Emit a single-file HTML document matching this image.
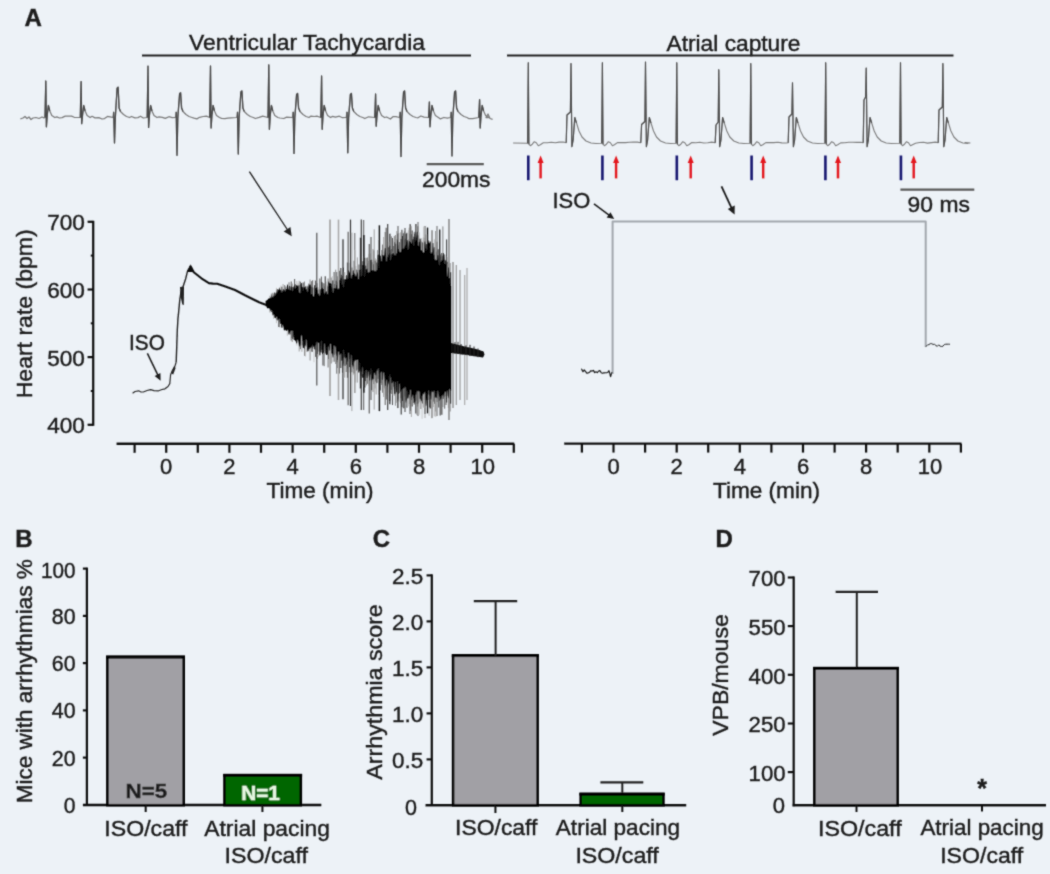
<!DOCTYPE html>
<html><head><meta charset="utf-8"><style>
html,body{margin:0;padding:0;background:#EDF2F7;}
svg{display:block;}
text{font-family:"Liberation Sans",sans-serif;}
</style></head><body>
<svg width="1050" height="874" viewBox="0 0 1050 874">
<defs><filter id="soft" filterUnits="userSpaceOnUse" x="0" y="0" width="1050" height="874"><feConvolveMatrix order="3" kernelMatrix="0.03 0.1 0.03 0.1 0.48 0.1 0.03 0.1 0.03" edgeMode="duplicate"/></filter></defs>
<rect width="1050" height="874" fill="#EDF2F7"/>
<g filter="url(#soft)">
<text x="24.6" y="26.0" font-size="24" font-weight="bold" text-anchor="start" fill="#1b1b1b" stroke="#1b1b1b" stroke-width="0.4">A</text>
<text x="189.0" y="50.0" font-size="22" font-weight="normal" text-anchor="start" fill="#1b1b1b" stroke="#1b1b1b" stroke-width="0.4" textLength="236.0" lengthAdjust="spacingAndGlyphs">Ventricular Tachycardia</text>
<line x1="142.0" y1="55.6" x2="471.0" y2="55.6" stroke="#222" stroke-width="2"/>
<text x="666.5" y="50.5" font-size="22" font-weight="normal" text-anchor="start" fill="#1b1b1b" stroke="#1b1b1b" stroke-width="0.4" textLength="134.0" lengthAdjust="spacingAndGlyphs">Atrial capture</text>
<line x1="507.0" y1="55.4" x2="953.5" y2="55.4" stroke="#222" stroke-width="2"/>
<polyline points="20.4,118.8 23.0,118.0 25.0,116.5 27.0,118.5 29.0,117.0 31.0,119.5 33.0,118.0 36.0,117.5 39.0,118.5 42.0,117.0 44.0,117.8 45.0,117.5 45.8,81.0 46.4,126.8 47.2,115.5 48.4,105.5 49.8,111.0 51.8,115.5 54.8,117.5 56.8,116.9 59.5,118.0 62.1,117.6 65.2,116.1 68.4,116.0 71.6,116.1 74.2,117.3 80.3,117.5 81.1,81.6 81.7,123.7 82.5,115.5 83.7,105.5 85.1,111.0 87.1,115.5 90.1,117.5 92.1,116.3 94.9,117.9 98.9,117.7 102.0,119.0 104.5,118.6 107.5,116.4 110.1,116.9 112.9,117.5 113.7,112.0 114.5,142.9 115.3,118.0 117.1,88.2 118.1,87.2 119.1,108.0 120.5,111.5 123.5,114.5 126.5,116.5 129.5,117.5 131.5,116.5 134.9,117.9 137.9,117.6 140.5,116.2 143.3,118.0 147.2,117.5 148.0,66.1 148.6,127.4 149.4,115.5 150.6,105.5 152.0,111.0 154.0,115.5 157.0,117.5 159.0,116.9 162.4,117.4 165.3,118.4 168.9,116.7 172.2,117.6 175.4,117.5 176.2,112.0 177.0,155.3 177.8,118.0 179.6,93.8 180.6,92.8 181.6,108.0 183.0,111.5 186.0,114.5 189.0,116.5 192.0,117.5 194.0,118.2 196.9,118.9 199.6,117.3 203.2,116.5 206.5,116.1 209.7,117.5 210.5,66.0 211.1,128.0 211.9,115.5 213.1,105.5 214.5,111.0 216.5,115.5 219.5,117.5 221.5,118.3 224.9,118.7 227.8,118.1 231.2,117.8 236.7,117.5 237.5,112.0 238.3,154.0 239.1,118.0 240.9,92.0 241.9,91.0 242.9,108.0 244.3,111.5 247.3,114.5 250.3,116.5 253.3,117.5 255.3,118.5 259.2,117.4 262.7,116.2 268.0,117.5 268.8,64.9 269.4,129.3 270.2,115.5 271.4,105.5 272.8,111.0 274.8,115.5 277.8,117.5 279.8,118.0 283.8,118.5 286.7,117.1 292.4,117.5 293.2,112.0 294.0,153.4 294.8,118.0 296.6,94.4 297.6,93.4 298.6,108.0 300.0,111.5 303.0,114.5 306.0,116.5 309.0,117.5 311.0,116.1 314.2,116.5 316.9,116.2 320.8,117.5 321.6,76.0 322.2,129.3 323.0,115.5 324.2,105.5 325.6,111.0 327.6,115.5 330.6,117.5 332.6,116.3 335.5,117.2 339.3,116.2 342.5,117.7 346.2,117.5 347.0,112.0 347.8,152.8 348.6,118.0 350.4,94.4 351.4,93.4 352.4,108.0 353.8,111.5 356.8,114.5 359.8,116.5 362.8,117.5 364.8,118.5 368.6,116.8 374.8,117.5 375.6,94.0 376.2,126.2 377.0,115.5 378.2,105.5 379.6,111.0 381.6,115.5 384.6,117.5 386.6,117.0 390.4,119.0 393.2,116.5 396.0,116.6 399.4,117.5 400.2,112.0 401.0,156.5 401.8,118.0 403.6,91.9 404.6,90.9 405.6,108.0 407.0,111.5 410.0,114.5 413.0,116.5 416.0,117.5 418.0,117.8 420.9,116.0 424.0,117.1 428.6,117.5 429.4,102.0 430.0,126.8 430.8,115.5 432.0,105.5 433.4,111.0 435.4,115.5 438.4,117.5 440.4,118.9 443.9,117.5 447.4,118.1 450.4,117.5 451.2,112.0 452.0,155.9 452.8,118.0 454.6,91.9 455.6,90.9 456.6,108.0 458.0,111.5 461.0,114.5 464.0,116.5 467.0,117.5 469.0,118.7 472.7,118.6 478.8,117.5 479.6,99.6 480.2,128.0 481.0,115.5 482.2,105.5 483.6,111.0 485.6,115.5 488.6,117.5 486.0,117.5 488.0,114.0 490.0,118.5 492.6,119.4" fill="none" stroke="#7a7a7a" stroke-width="1.25" stroke-linejoin="round"/>
<polyline points="45.0,117.5 45.8,81.0 46.4,126.8 47.2,115.5 48.4,105.5 49.8,111.0" fill="none" stroke="#4a4a4a" stroke-width="1.25" stroke-linejoin="round"/>
<polyline points="80.3,117.5 81.1,81.6 81.7,123.7 82.5,115.5 83.7,105.5 85.1,111.0" fill="none" stroke="#4a4a4a" stroke-width="1.25" stroke-linejoin="round"/>
<polyline points="113.7,112.0 114.5,142.9 115.3,118.0 117.1,88.2 118.1,87.2 119.1,108.0 120.5,111.5" fill="none" stroke="#4a4a4a" stroke-width="1.25" stroke-linejoin="round"/>
<polyline points="147.2,117.5 148.0,66.1 148.6,127.4 149.4,115.5 150.6,105.5 152.0,111.0" fill="none" stroke="#4a4a4a" stroke-width="1.25" stroke-linejoin="round"/>
<polyline points="176.2,112.0 177.0,155.3 177.8,118.0 179.6,93.8 180.6,92.8 181.6,108.0 183.0,111.5" fill="none" stroke="#4a4a4a" stroke-width="1.25" stroke-linejoin="round"/>
<polyline points="209.7,117.5 210.5,66.0 211.1,128.0 211.9,115.5 213.1,105.5 214.5,111.0" fill="none" stroke="#4a4a4a" stroke-width="1.25" stroke-linejoin="round"/>
<polyline points="237.5,112.0 238.3,154.0 239.1,118.0 240.9,92.0 241.9,91.0 242.9,108.0 244.3,111.5" fill="none" stroke="#4a4a4a" stroke-width="1.25" stroke-linejoin="round"/>
<polyline points="268.0,117.5 268.8,64.9 269.4,129.3 270.2,115.5 271.4,105.5 272.8,111.0" fill="none" stroke="#4a4a4a" stroke-width="1.25" stroke-linejoin="round"/>
<polyline points="293.2,112.0 294.0,153.4 294.8,118.0 296.6,94.4 297.6,93.4 298.6,108.0 300.0,111.5" fill="none" stroke="#4a4a4a" stroke-width="1.25" stroke-linejoin="round"/>
<polyline points="320.8,117.5 321.6,76.0 322.2,129.3 323.0,115.5 324.2,105.5 325.6,111.0" fill="none" stroke="#4a4a4a" stroke-width="1.25" stroke-linejoin="round"/>
<polyline points="347.0,112.0 347.8,152.8 348.6,118.0 350.4,94.4 351.4,93.4 352.4,108.0 353.8,111.5" fill="none" stroke="#4a4a4a" stroke-width="1.25" stroke-linejoin="round"/>
<polyline points="374.8,117.5 375.6,94.0 376.2,126.2 377.0,115.5 378.2,105.5 379.6,111.0" fill="none" stroke="#4a4a4a" stroke-width="1.25" stroke-linejoin="round"/>
<polyline points="400.2,112.0 401.0,156.5 401.8,118.0 403.6,91.9 404.6,90.9 405.6,108.0 407.0,111.5" fill="none" stroke="#4a4a4a" stroke-width="1.25" stroke-linejoin="round"/>
<polyline points="428.6,117.5 429.4,102.0 430.0,126.8 430.8,115.5 432.0,105.5 433.4,111.0" fill="none" stroke="#4a4a4a" stroke-width="1.25" stroke-linejoin="round"/>
<polyline points="451.2,112.0 452.0,155.9 452.8,118.0 454.6,91.9 455.6,90.9 456.6,108.0 458.0,111.5" fill="none" stroke="#4a4a4a" stroke-width="1.25" stroke-linejoin="round"/>
<polyline points="478.8,117.5 479.6,99.6 480.2,128.0 481.0,115.5 482.2,105.5 483.6,111.0" fill="none" stroke="#4a4a4a" stroke-width="1.25" stroke-linejoin="round"/>
<polyline points="513.1,143.0 527.6,143.2 528.3,62.7 528.9,144.2 530.3,145.7 532.3,144.2 534.3,141.7 536.3,142.7 538.3,145.7 540.3,144.7 543.3,142.8 547.3,142.7 551.3,142.3 555.3,142.8 559.3,142.1 563.3,142.0 566.2,142.7 567.0,115.0 570.4,112.0 571.0,63.5 571.9,146.7 573.1,140.2 574.8,117.5 576.5,123.0 579.0,131.0 582.0,137.0 586.0,141.0 591.0,143.0 596.0,143.5 601.7,143.2 602.4,62.7 603.0,144.2 604.4,145.7 606.4,144.2 608.4,141.7 610.4,142.7 612.4,145.7 614.4,144.7 617.4,142.6 621.4,142.5 625.4,142.6 629.4,142.2 633.4,142.1 637.4,142.1 640.8,142.7 641.6,124.5 644.9,121.5 645.5,62.0 646.4,146.7 647.6,140.2 649.3,117.5 651.0,123.0 653.5,131.0 656.5,137.0 660.5,141.0 665.5,143.0 670.5,143.5 676.1,143.2 676.8,62.7 677.4,144.2 678.8,145.7 680.8,144.2 682.8,141.7 684.8,142.7 686.8,145.7 688.8,144.7 691.8,142.5 695.8,142.7 699.8,142.3 703.8,143.0 707.8,142.7 711.8,142.1 715.2,142.7 716.0,125.0 718.2,122.0 718.8,69.7 719.7,146.7 720.9,140.2 722.6,117.5 724.3,123.0 726.8,131.0 729.8,137.0 733.8,141.0 738.8,143.0 743.8,143.5 750.1,143.2 750.8,63.5 751.4,144.2 752.8,145.7 754.8,144.2 756.8,141.7 758.8,142.7 760.8,145.7 762.8,144.7 765.8,142.6 769.8,142.6 773.8,142.6 777.8,142.3 781.8,142.9 785.8,143.0 788.2,142.7 789.0,117.0 791.9,114.0 792.5,82.8 793.4,146.7 794.6,140.2 796.3,117.5 798.0,123.0 800.5,131.0 803.5,137.0 807.5,141.0 812.5,143.0 817.5,143.5 825.0,143.2 825.7,62.7 826.3,144.2 827.7,145.7 829.7,144.2 831.7,141.7 833.7,142.7 835.7,145.7 837.7,144.7 840.7,142.9 844.7,142.8 848.7,142.3 852.7,142.2 856.7,142.4 860.7,142.2 863.2,142.7 864.0,100.0 865.6,97.0 866.2,68.1 867.1,146.7 868.3,140.2 870.0,117.5 871.7,123.0 874.2,131.0 877.2,137.0 881.2,141.0 886.2,143.0 891.2,143.5 899.8,143.2 900.5,62.7 901.1,144.2 902.5,145.7 904.5,144.2 906.5,141.7 908.5,142.7 910.5,145.7 912.5,144.7 915.5,143.2 919.5,142.5 923.5,142.2 927.5,143.1 931.5,142.6 935.5,142.1 938.2,142.7 939.0,110.0 942.3,107.0 942.9,63.5 943.8,146.7 945.0,140.2 946.7,117.5 948.4,123.0 950.9,131.0 953.9,137.0 957.9,141.0 962.9,143.0 967.9,143.5 965.0,142.5 970.4,143.0" fill="none" stroke="#7d7d7d" stroke-width="1.1" stroke-linejoin="round"/>
<polyline points="527.6,143.2 528.3,62.7 528.9,144.2" fill="none" stroke="#505050" stroke-width="1.15" stroke-linejoin="round"/>
<polyline points="566.2,142.7 567.0,115.0 570.4,112.0 571.0,63.5 571.9,146.7 573.1,140.2 574.8,117.5 576.5,123.0" fill="none" stroke="#505050" stroke-width="1.15" stroke-linejoin="round"/>
<polyline points="601.7,143.2 602.4,62.7 603.0,144.2" fill="none" stroke="#505050" stroke-width="1.15" stroke-linejoin="round"/>
<polyline points="640.8,142.7 641.6,124.5 644.9,121.5 645.5,62.0 646.4,146.7 647.6,140.2 649.3,117.5 651.0,123.0" fill="none" stroke="#505050" stroke-width="1.15" stroke-linejoin="round"/>
<polyline points="676.1,143.2 676.8,62.7 677.4,144.2" fill="none" stroke="#505050" stroke-width="1.15" stroke-linejoin="round"/>
<polyline points="715.2,142.7 716.0,125.0 718.2,122.0 718.8,69.7 719.7,146.7 720.9,140.2 722.6,117.5 724.3,123.0" fill="none" stroke="#505050" stroke-width="1.15" stroke-linejoin="round"/>
<polyline points="750.1,143.2 750.8,63.5 751.4,144.2" fill="none" stroke="#505050" stroke-width="1.15" stroke-linejoin="round"/>
<polyline points="788.2,142.7 789.0,117.0 791.9,114.0 792.5,82.8 793.4,146.7 794.6,140.2 796.3,117.5 798.0,123.0" fill="none" stroke="#505050" stroke-width="1.15" stroke-linejoin="round"/>
<polyline points="825.0,143.2 825.7,62.7 826.3,144.2" fill="none" stroke="#505050" stroke-width="1.15" stroke-linejoin="round"/>
<polyline points="863.2,142.7 864.0,100.0 865.6,97.0 866.2,68.1 867.1,146.7 868.3,140.2 870.0,117.5 871.7,123.0" fill="none" stroke="#505050" stroke-width="1.15" stroke-linejoin="round"/>
<polyline points="899.8,143.2 900.5,62.7 901.1,144.2" fill="none" stroke="#505050" stroke-width="1.15" stroke-linejoin="round"/>
<polyline points="938.2,142.7 939.0,110.0 942.3,107.0 942.9,63.5 943.8,146.7 945.0,140.2 946.7,117.5 948.4,123.0" fill="none" stroke="#505050" stroke-width="1.15" stroke-linejoin="round"/>
<line x1="528.3" y1="155.5" x2="528.3" y2="180.2" stroke="#161670" stroke-width="2.6"/>
<line x1="602.4" y1="155.5" x2="602.4" y2="180.2" stroke="#161670" stroke-width="2.6"/>
<line x1="676.8" y1="155.5" x2="676.8" y2="180.2" stroke="#161670" stroke-width="2.6"/>
<line x1="751.6" y1="155.5" x2="751.6" y2="180.2" stroke="#161670" stroke-width="2.6"/>
<line x1="825.4" y1="155.5" x2="825.4" y2="180.2" stroke="#161670" stroke-width="2.6"/>
<line x1="900.9" y1="155.5" x2="900.9" y2="180.2" stroke="#161670" stroke-width="2.6"/>
<line x1="540.6" y1="161.0" x2="540.6" y2="178.4" stroke="#e3141c" stroke-width="2.4"/>
<polygon points="540.6,155.6 537.6,163 543.6,163" fill="#e3141c"/>
<line x1="616.1" y1="161.0" x2="616.1" y2="178.4" stroke="#e3141c" stroke-width="2.4"/>
<polygon points="616.1,155.6 613.1,163 619.1,163" fill="#e3141c"/>
<line x1="690.7" y1="161.0" x2="690.7" y2="178.4" stroke="#e3141c" stroke-width="2.4"/>
<polygon points="690.7,155.6 687.7,163 693.7,163" fill="#e3141c"/>
<line x1="763.2" y1="161.0" x2="763.2" y2="178.4" stroke="#e3141c" stroke-width="2.4"/>
<polygon points="763.2,155.6 760.2,163 766.2,163" fill="#e3141c"/>
<line x1="838.0" y1="161.0" x2="838.0" y2="178.4" stroke="#e3141c" stroke-width="2.4"/>
<polygon points="838.0,155.6 835.0,163 841.0,163" fill="#e3141c"/>
<line x1="913.7" y1="161.0" x2="913.7" y2="178.4" stroke="#e3141c" stroke-width="2.4"/>
<polygon points="913.7,155.6 910.7,163 916.7,163" fill="#e3141c"/>
<line x1="426.7" y1="164.1" x2="483.8" y2="164.1" stroke="#5a5a5a" stroke-width="2.2"/>
<text x="422.0" y="187.4" font-size="22" font-weight="normal" text-anchor="start" fill="#1b1b1b" stroke="#1b1b1b" stroke-width="0.4" textLength="68.5" lengthAdjust="spacingAndGlyphs">200ms</text>
<line x1="900.4" y1="189.7" x2="974.3" y2="189.7" stroke="#5a5a5a" stroke-width="2.2"/>
<text x="907.6" y="211.7" font-size="22" font-weight="normal" text-anchor="start" fill="#1b1b1b" stroke="#1b1b1b" stroke-width="0.4" textLength="62.3" lengthAdjust="spacingAndGlyphs">90 ms</text>
<line x1="249.4" y1="171.7" x2="287.6" y2="230.0" stroke="#222" stroke-width="1.35"/>
<polygon points="291.7,236.3 283.7,231.4 290.4,227.0" fill="#222"/>
<line x1="721.5" y1="186.4" x2="731.6" y2="208.2" stroke="#1a1a1a" stroke-width="1.8"/>
<polygon points="734.6,214.5 727.8,208.9 734.7,205.6" fill="#1a1a1a"/>
<line x1="93.2" y1="220.8" x2="93.2" y2="425.8" stroke="#111" stroke-width="2.2"/>
<line x1="87.6" y1="424.8" x2="93.2" y2="424.8" stroke="#111" stroke-width="2.2"/>
<text x="84.9" y="433.3" font-size="22.6" font-weight="normal" text-anchor="end" fill="#1b1b1b" stroke="#1b1b1b" stroke-width="0.4">400</text>
<line x1="87.6" y1="357.1" x2="93.2" y2="357.1" stroke="#111" stroke-width="2.2"/>
<text x="84.9" y="365.6" font-size="22.6" font-weight="normal" text-anchor="end" fill="#1b1b1b" stroke="#1b1b1b" stroke-width="0.4">500</text>
<line x1="87.6" y1="289.5" x2="93.2" y2="289.5" stroke="#111" stroke-width="2.2"/>
<text x="84.9" y="298.0" font-size="22.6" font-weight="normal" text-anchor="end" fill="#1b1b1b" stroke="#1b1b1b" stroke-width="0.4">600</text>
<line x1="87.6" y1="221.8" x2="93.2" y2="221.8" stroke="#111" stroke-width="2.2"/>
<text x="84.9" y="230.3" font-size="22.6" font-weight="normal" text-anchor="end" fill="#1b1b1b" stroke="#1b1b1b" stroke-width="0.4">700</text>
<line x1="90.8" y1="391.0" x2="93.2" y2="391.0" stroke="#111" stroke-width="2"/>
<line x1="90.8" y1="323.3" x2="93.2" y2="323.3" stroke="#111" stroke-width="2"/>
<line x1="90.8" y1="255.6" x2="93.2" y2="255.6" stroke="#111" stroke-width="2"/>
<text x="32.2" y="398.3" font-size="21.5" font-weight="normal" text-anchor="start" fill="#1b1b1b" stroke="#1b1b1b" stroke-width="0.4" textLength="169.0" lengthAdjust="spacingAndGlyphs" transform="rotate(-90 32.2 398.3)">Heart rate (bpm)</text>
<line x1="116.6" y1="443.8" x2="514.2" y2="443.8" stroke="#111" stroke-width="2.4"/>
<line x1="134.6" y1="443.8" x2="134.6" y2="452.8" stroke="#111" stroke-width="2.2"/>
<line x1="166.2" y1="443.8" x2="166.2" y2="452.8" stroke="#111" stroke-width="2.2"/>
<line x1="197.8" y1="443.8" x2="197.8" y2="452.8" stroke="#111" stroke-width="2.2"/>
<line x1="229.4" y1="443.8" x2="229.4" y2="452.8" stroke="#111" stroke-width="2.2"/>
<line x1="261.0" y1="443.8" x2="261.0" y2="452.8" stroke="#111" stroke-width="2.2"/>
<line x1="292.6" y1="443.8" x2="292.6" y2="452.8" stroke="#111" stroke-width="2.2"/>
<line x1="324.2" y1="443.8" x2="324.2" y2="452.8" stroke="#111" stroke-width="2.2"/>
<line x1="355.8" y1="443.8" x2="355.8" y2="452.8" stroke="#111" stroke-width="2.2"/>
<line x1="387.4" y1="443.8" x2="387.4" y2="452.8" stroke="#111" stroke-width="2.2"/>
<line x1="419.0" y1="443.8" x2="419.0" y2="452.8" stroke="#111" stroke-width="2.2"/>
<line x1="450.6" y1="443.8" x2="450.6" y2="452.8" stroke="#111" stroke-width="2.2"/>
<line x1="482.2" y1="443.8" x2="482.2" y2="452.8" stroke="#111" stroke-width="2.2"/>
<line x1="513.8" y1="443.8" x2="513.8" y2="452.8" stroke="#111" stroke-width="2.2"/>
<text x="166.2" y="474.4" font-size="22" font-weight="normal" text-anchor="middle" fill="#1b1b1b" stroke="#1b1b1b" stroke-width="0.4">0</text>
<text x="229.4" y="474.4" font-size="22" font-weight="normal" text-anchor="middle" fill="#1b1b1b" stroke="#1b1b1b" stroke-width="0.4">2</text>
<text x="292.6" y="474.4" font-size="22" font-weight="normal" text-anchor="middle" fill="#1b1b1b" stroke="#1b1b1b" stroke-width="0.4">4</text>
<text x="355.8" y="474.4" font-size="22" font-weight="normal" text-anchor="middle" fill="#1b1b1b" stroke="#1b1b1b" stroke-width="0.4">6</text>
<text x="419.0" y="474.4" font-size="22" font-weight="normal" text-anchor="middle" fill="#1b1b1b" stroke="#1b1b1b" stroke-width="0.4">8</text>
<text x="482.8" y="474.4" font-size="22" font-weight="normal" text-anchor="middle" fill="#1b1b1b" stroke="#1b1b1b" stroke-width="0.4">10</text>
<text x="266.5" y="498.1" font-size="21.5" font-weight="normal" text-anchor="start" fill="#1b1b1b" stroke="#1b1b1b" stroke-width="0.4" textLength="107.0" lengthAdjust="spacingAndGlyphs">Time (min)</text>
<text x="129.0" y="349.7" font-size="21.5" font-weight="normal" text-anchor="start" fill="#1b1b1b" stroke="#1b1b1b" stroke-width="0.4" textLength="35.8" lengthAdjust="spacingAndGlyphs">ISO</text>
<line x1="147.4" y1="353.4" x2="158.0" y2="375.4" stroke="#1a1a1a" stroke-width="1.5"/>
<polygon points="160.6,380.8 154.7,375.9 160.4,373.1" fill="#1a1a1a"/>
<polyline points="132.6,393.2 135.0,391.5 138.6,390.8 141.0,392.0 143.4,392.0 147.0,390.5 150.6,389.6 154.0,390.6 158.6,390.8 162.0,389.5 165.0,388.8 168.0,386.5 169.8,383.6 170.6,374.8 172.2,370.8 175.0,366.0 176.2,362.0" fill="none" stroke="#2a2a2a" stroke-width="1.2" stroke-linejoin="round"/>
<polyline points="176.2,362.0 176.8,345.0 177.3,330.0 178.0,318.0 178.4,314.7 179.8,299.6 181.0,292.0 182.2,289.3 185.6,279.0 187.6,270.8 190.4,266.0" fill="none" stroke="#222" stroke-width="1.4" stroke-linejoin="round"/>
<polyline points="190.4,266.0 193.8,272.2 201.4,278.3 208.9,283.1 213.0,283.6 217.2,283.8 225.4,286.6 235.0,290.0 245.0,295.3 252.0,298.8 259.1,302.3 265.0,304.6 271.9,306.7" fill="none" stroke="#111" stroke-width="2.1" stroke-linejoin="round"/>
<polygon points="180,287 184,286.5 183.8,305 182.3,304.5 180.5,296" fill="#222"/>
<polygon points="187.3,272 190.4,264.3 193.6,272" fill="#111"/>
<polygon points="171.4,373.5 174.3,365.5 175.6,368 173.2,374.5" fill="#222"/>
<line x1="270.0" y1="295.8" x2="270.0" y2="312.4" stroke="#999" stroke-width="1.1"/>
<line x1="270.5" y1="297.3" x2="270.5" y2="310.7" stroke="#333" stroke-width="1"/>
<line x1="271.4" y1="293.6" x2="271.4" y2="312.2" stroke="#808080" stroke-width="0.9"/>
<line x1="271.9" y1="295.5" x2="271.9" y2="311.9" stroke="#1a1a1a" stroke-width="1"/>
<line x1="272.9" y1="292.8" x2="272.9" y2="315.4" stroke="#999" stroke-width="1.4"/>
<line x1="273.4" y1="294.4" x2="273.4" y2="314.3" stroke="#333" stroke-width="1"/>
<line x1="273.7" y1="294.0" x2="273.7" y2="318.9" stroke="#b0b0b0" stroke-width="0.9"/>
<line x1="274.2" y1="294.5" x2="274.2" y2="316.0" stroke="#666" stroke-width="1"/>
<line x1="274.7" y1="292.4" x2="274.7" y2="317.7" stroke="#4d4d4d" stroke-width="1.4"/>
<line x1="275.2" y1="293.4" x2="275.2" y2="316.1" stroke="#1a1a1a" stroke-width="1"/>
<line x1="276.5" y1="287.8" x2="276.5" y2="323.2" stroke="#c4c4c4" stroke-width="1.1"/>
<line x1="277.0" y1="290.3" x2="277.0" y2="319.8" stroke="#4d4d4d" stroke-width="1"/>
<line x1="277.4" y1="288.9" x2="277.4" y2="320.6" stroke="#4d4d4d" stroke-width="1.1"/>
<line x1="277.9" y1="291.8" x2="277.9" y2="319.4" stroke="#666" stroke-width="1"/>
<line x1="278.8" y1="289.8" x2="278.8" y2="327.0" stroke="#4d4d4d" stroke-width="1.1"/>
<line x1="279.3" y1="290.5" x2="279.3" y2="322.5" stroke="#666" stroke-width="1"/>
<line x1="279.7" y1="287.5" x2="279.7" y2="327.3" stroke="#808080" stroke-width="1.1"/>
<line x1="280.2" y1="290.4" x2="280.2" y2="322.1" stroke="#1a1a1a" stroke-width="1"/>
<line x1="280.9" y1="285.5" x2="280.9" y2="324.9" stroke="#c4c4c4" stroke-width="0.9"/>
<line x1="281.4" y1="290.5" x2="281.4" y2="324.1" stroke="#1a1a1a" stroke-width="1"/>
<line x1="281.9" y1="286.8" x2="281.9" y2="328.0" stroke="#666" stroke-width="1.4"/>
<line x1="282.4" y1="289.5" x2="282.4" y2="325.3" stroke="#333" stroke-width="1"/>
<line x1="283.1" y1="284.0" x2="283.1" y2="326.5" stroke="#b0b0b0" stroke-width="1.1"/>
<line x1="283.6" y1="289.2" x2="283.6" y2="325.9" stroke="#1a1a1a" stroke-width="1"/>
<line x1="284.7" y1="285.1" x2="284.7" y2="329.1" stroke="#666" stroke-width="0.9"/>
<line x1="285.2" y1="288.7" x2="285.2" y2="328.3" stroke="#666" stroke-width="1"/>
<line x1="285.9" y1="286.5" x2="285.9" y2="330.2" stroke="#4d4d4d" stroke-width="0.9"/>
<line x1="286.4" y1="289.0" x2="286.4" y2="329.2" stroke="#333" stroke-width="1"/>
<line x1="287.3" y1="287.1" x2="287.3" y2="335.7" stroke="#b0b0b0" stroke-width="0.9"/>
<line x1="287.8" y1="288.6" x2="287.8" y2="330.8" stroke="#666" stroke-width="1"/>
<line x1="289.0" y1="282.3" x2="289.0" y2="334.9" stroke="#666" stroke-width="0.9"/>
<line x1="289.5" y1="285.9" x2="289.5" y2="332.7" stroke="#333" stroke-width="1"/>
<line x1="290.3" y1="286.7" x2="290.3" y2="334.6" stroke="#4d4d4d" stroke-width="0.9"/>
<line x1="290.8" y1="287.9" x2="290.8" y2="333.9" stroke="#4d4d4d" stroke-width="1"/>
<line x1="291.3" y1="281.4" x2="291.3" y2="340.5" stroke="#808080" stroke-width="1.4"/>
<line x1="291.8" y1="284.3" x2="291.8" y2="338.0" stroke="#333" stroke-width="1"/>
<line x1="292.3" y1="283.4" x2="292.3" y2="342.1" stroke="#b0b0b0" stroke-width="1.4"/>
<line x1="292.8" y1="287.0" x2="292.8" y2="339.0" stroke="#1a1a1a" stroke-width="1"/>
<line x1="293.3" y1="286.4" x2="293.3" y2="339.8" stroke="#999" stroke-width="0.9"/>
<line x1="293.8" y1="287.5" x2="293.8" y2="336.9" stroke="#1a1a1a" stroke-width="1"/>
<line x1="294.6" y1="279.0" x2="294.6" y2="339.5" stroke="#666" stroke-width="1.1"/>
<line x1="295.1" y1="284.0" x2="295.1" y2="338.4" stroke="#4d4d4d" stroke-width="1"/>
<line x1="296.0" y1="284.8" x2="296.0" y2="340.4" stroke="#4d4d4d" stroke-width="1.1"/>
<line x1="296.5" y1="286.1" x2="296.5" y2="339.8" stroke="#4d4d4d" stroke-width="1"/>
<line x1="296.8" y1="281.1" x2="296.8" y2="345.4" stroke="#c4c4c4" stroke-width="1.1"/>
<line x1="297.3" y1="286.6" x2="297.3" y2="339.7" stroke="#4d4d4d" stroke-width="1"/>
<line x1="298.1" y1="283.3" x2="298.1" y2="341.7" stroke="#c4c4c4" stroke-width="1.4"/>
<line x1="298.6" y1="285.4" x2="298.6" y2="341.0" stroke="#333" stroke-width="1"/>
<line x1="299.2" y1="280.8" x2="299.2" y2="351.5" stroke="#999" stroke-width="0.9"/>
<line x1="299.7" y1="285.2" x2="299.7" y2="344.8" stroke="#666" stroke-width="1"/>
<line x1="300.4" y1="281.7" x2="300.4" y2="349.2" stroke="#4d4d4d" stroke-width="0.9"/>
<line x1="300.9" y1="284.1" x2="300.9" y2="345.5" stroke="#1a1a1a" stroke-width="1"/>
<line x1="301.9" y1="283.4" x2="301.9" y2="351.8" stroke="#b0b0b0" stroke-width="1.1"/>
<line x1="302.4" y1="286.8" x2="302.4" y2="345.3" stroke="#666" stroke-width="1"/>
<line x1="303.2" y1="282.4" x2="303.2" y2="347.8" stroke="#4d4d4d" stroke-width="1.1"/>
<line x1="303.7" y1="287.5" x2="303.7" y2="345.0" stroke="#1a1a1a" stroke-width="1"/>
<line x1="304.5" y1="281.5" x2="304.5" y2="355.9" stroke="#808080" stroke-width="0.9"/>
<line x1="305.0" y1="287.3" x2="305.0" y2="348.7" stroke="#4d4d4d" stroke-width="1"/>
<line x1="305.5" y1="285.8" x2="305.5" y2="356.5" stroke="#c4c4c4" stroke-width="1.1"/>
<line x1="306.0" y1="287.2" x2="306.0" y2="346.6" stroke="#666" stroke-width="1"/>
<line x1="307.0" y1="285.7" x2="307.0" y2="351.8" stroke="#666" stroke-width="0.9"/>
<line x1="307.5" y1="288.6" x2="307.5" y2="348.7" stroke="#666" stroke-width="1"/>
<line x1="308.0" y1="286.5" x2="308.0" y2="351.2" stroke="#4d4d4d" stroke-width="1.4"/>
<line x1="308.5" y1="287.6" x2="308.5" y2="346.3" stroke="#1a1a1a" stroke-width="1"/>
<line x1="309.0" y1="283.4" x2="309.0" y2="350.6" stroke="#666" stroke-width="1.1"/>
<line x1="309.5" y1="287.2" x2="309.5" y2="347.1" stroke="#666" stroke-width="1"/>
<line x1="310.1" y1="279.5" x2="310.1" y2="360.4" stroke="#999" stroke-width="1.1"/>
<line x1="310.6" y1="284.6" x2="310.6" y2="348.3" stroke="#1a1a1a" stroke-width="1"/>
<line x1="311.5" y1="281.2" x2="311.5" y2="351.7" stroke="#808080" stroke-width="1.1"/>
<line x1="312.0" y1="286.6" x2="312.0" y2="347.6" stroke="#1a1a1a" stroke-width="1"/>
<line x1="312.5" y1="280.3" x2="312.5" y2="351.9" stroke="#666" stroke-width="0.9"/>
<line x1="313.0" y1="287.5" x2="313.0" y2="348.6" stroke="#1a1a1a" stroke-width="1"/>
<line x1="314.0" y1="279.9" x2="314.0" y2="362.2" stroke="#c4c4c4" stroke-width="0.9"/>
<line x1="314.5" y1="285.2" x2="314.5" y2="349.4" stroke="#333" stroke-width="1"/>
<line x1="315.5" y1="280.6" x2="315.5" y2="356.9" stroke="#4d4d4d" stroke-width="0.9"/>
<line x1="316.0" y1="289.0" x2="316.0" y2="349.5" stroke="#333" stroke-width="1"/>
<line x1="317.0" y1="283.3" x2="317.0" y2="358.8" stroke="#666" stroke-width="1.1"/>
<line x1="317.5" y1="290.6" x2="317.5" y2="354.0" stroke="#333" stroke-width="1"/>
<line x1="318.5" y1="287.3" x2="318.5" y2="356.8" stroke="#c4c4c4" stroke-width="0.9"/>
<line x1="319.0" y1="289.5" x2="319.0" y2="351.6" stroke="#666" stroke-width="1"/>
<line x1="319.8" y1="278.5" x2="319.8" y2="355.5" stroke="#808080" stroke-width="1.4"/>
<line x1="320.3" y1="289.4" x2="320.3" y2="352.1" stroke="#333" stroke-width="1"/>
<line x1="321.4" y1="276.4" x2="321.4" y2="352.4" stroke="#666" stroke-width="1.1"/>
<line x1="321.9" y1="281.9" x2="321.9" y2="349.9" stroke="#1a1a1a" stroke-width="1"/>
<line x1="323.0" y1="283.3" x2="323.0" y2="365.6" stroke="#4d4d4d" stroke-width="1.1"/>
<line x1="323.5" y1="289.0" x2="323.5" y2="352.3" stroke="#1a1a1a" stroke-width="1"/>
<line x1="324.2" y1="283.4" x2="324.2" y2="366.2" stroke="#666" stroke-width="0.9"/>
<line x1="324.7" y1="286.2" x2="324.7" y2="350.9" stroke="#666" stroke-width="1"/>
<line x1="325.3" y1="276.2" x2="325.3" y2="353.5" stroke="#666" stroke-width="1.4"/>
<line x1="325.8" y1="281.5" x2="325.8" y2="350.5" stroke="#666" stroke-width="1"/>
<line x1="327.1" y1="284.8" x2="327.1" y2="355.3" stroke="#b0b0b0" stroke-width="1.4"/>
<line x1="327.6" y1="286.4" x2="327.6" y2="351.5" stroke="#4d4d4d" stroke-width="1"/>
<line x1="328.1" y1="278.6" x2="328.1" y2="367.6" stroke="#808080" stroke-width="1.1"/>
<line x1="328.6" y1="282.5" x2="328.6" y2="359.0" stroke="#666" stroke-width="1"/>
<line x1="329.5" y1="280.9" x2="329.5" y2="354.4" stroke="#b0b0b0" stroke-width="1.4"/>
<line x1="330.0" y1="285.0" x2="330.0" y2="350.5" stroke="#4d4d4d" stroke-width="1"/>
<line x1="330.8" y1="277.6" x2="330.8" y2="363.4" stroke="#4d4d4d" stroke-width="1.4"/>
<line x1="331.3" y1="283.8" x2="331.3" y2="353.6" stroke="#1a1a1a" stroke-width="1"/>
<line x1="332.4" y1="276.0" x2="332.4" y2="362.3" stroke="#c4c4c4" stroke-width="0.9"/>
<line x1="332.9" y1="280.4" x2="332.9" y2="354.4" stroke="#1a1a1a" stroke-width="1"/>
<line x1="334.1" y1="271.9" x2="334.1" y2="361.7" stroke="#666" stroke-width="1.1"/>
<line x1="334.6" y1="284.1" x2="334.6" y2="354.9" stroke="#666" stroke-width="1"/>
<line x1="335.7" y1="269.7" x2="335.7" y2="364.0" stroke="#808080" stroke-width="0.9"/>
<line x1="336.2" y1="280.6" x2="336.2" y2="353.6" stroke="#333" stroke-width="1"/>
<line x1="336.8" y1="272.0" x2="336.8" y2="373.7" stroke="#4d4d4d" stroke-width="0.9"/>
<line x1="337.3" y1="282.2" x2="337.3" y2="362.2" stroke="#333" stroke-width="1"/>
<line x1="337.9" y1="276.3" x2="337.9" y2="367.9" stroke="#4d4d4d" stroke-width="1.1"/>
<line x1="338.4" y1="279.7" x2="338.4" y2="359.7" stroke="#1a1a1a" stroke-width="1"/>
<line x1="339.4" y1="270.8" x2="339.4" y2="373.5" stroke="#4d4d4d" stroke-width="1.1"/>
<line x1="339.9" y1="276.7" x2="339.9" y2="362.2" stroke="#666" stroke-width="1"/>
<line x1="340.8" y1="267.9" x2="340.8" y2="368.1" stroke="#666" stroke-width="1.4"/>
<line x1="341.3" y1="274.8" x2="341.3" y2="360.7" stroke="#333" stroke-width="1"/>
<line x1="342.4" y1="275.9" x2="342.4" y2="372.8" stroke="#808080" stroke-width="0.9"/>
<line x1="342.9" y1="279.3" x2="342.9" y2="365.7" stroke="#4d4d4d" stroke-width="1"/>
<line x1="343.4" y1="267.8" x2="343.4" y2="363.6" stroke="#4d4d4d" stroke-width="0.9"/>
<line x1="343.9" y1="279.7" x2="343.9" y2="358.3" stroke="#333" stroke-width="1"/>
<line x1="344.6" y1="272.1" x2="344.6" y2="377.7" stroke="#b0b0b0" stroke-width="1.4"/>
<line x1="345.1" y1="279.2" x2="345.1" y2="365.9" stroke="#333" stroke-width="1"/>
<line x1="346.2" y1="275.8" x2="346.2" y2="372.1" stroke="#808080" stroke-width="1.1"/>
<line x1="346.7" y1="277.8" x2="346.7" y2="364.6" stroke="#1a1a1a" stroke-width="1"/>
<line x1="347.4" y1="262.4" x2="347.4" y2="377.7" stroke="#4d4d4d" stroke-width="1.1"/>
<line x1="347.9" y1="278.2" x2="347.9" y2="368.5" stroke="#1a1a1a" stroke-width="1"/>
<line x1="348.8" y1="262.8" x2="348.8" y2="372.4" stroke="#666" stroke-width="0.9"/>
<line x1="349.3" y1="275.7" x2="349.3" y2="367.1" stroke="#1a1a1a" stroke-width="1"/>
<line x1="350.6" y1="261.3" x2="350.6" y2="366.8" stroke="#4d4d4d" stroke-width="0.9"/>
<line x1="351.1" y1="275.6" x2="351.1" y2="363.3" stroke="#666" stroke-width="1"/>
<line x1="351.8" y1="267.5" x2="351.8" y2="372.3" stroke="#666" stroke-width="1.4"/>
<line x1="352.3" y1="275.4" x2="352.3" y2="367.5" stroke="#4d4d4d" stroke-width="1"/>
<line x1="353.4" y1="269.9" x2="353.4" y2="375.3" stroke="#c4c4c4" stroke-width="1.1"/>
<line x1="353.9" y1="271.9" x2="353.9" y2="368.8" stroke="#666" stroke-width="1"/>
<line x1="354.3" y1="260.7" x2="354.3" y2="373.6" stroke="#4d4d4d" stroke-width="1.4"/>
<line x1="354.8" y1="269.3" x2="354.8" y2="366.7" stroke="#666" stroke-width="1"/>
<line x1="355.7" y1="266.1" x2="355.7" y2="382.6" stroke="#808080" stroke-width="0.9"/>
<line x1="356.2" y1="269.6" x2="356.2" y2="370.7" stroke="#333" stroke-width="1"/>
<line x1="357.4" y1="257.4" x2="357.4" y2="382.6" stroke="#999" stroke-width="0.9"/>
<line x1="357.9" y1="270.0" x2="357.9" y2="369.7" stroke="#666" stroke-width="1"/>
<line x1="359.0" y1="264.5" x2="359.0" y2="373.1" stroke="#808080" stroke-width="1.4"/>
<line x1="359.5" y1="269.8" x2="359.5" y2="371.4" stroke="#1a1a1a" stroke-width="1"/>
<line x1="360.4" y1="263.1" x2="360.4" y2="384.0" stroke="#b0b0b0" stroke-width="0.9"/>
<line x1="360.9" y1="268.3" x2="360.9" y2="378.5" stroke="#1a1a1a" stroke-width="1"/>
<line x1="361.9" y1="257.4" x2="361.9" y2="386.5" stroke="#b0b0b0" stroke-width="0.9"/>
<line x1="362.4" y1="264.9" x2="362.4" y2="377.7" stroke="#1a1a1a" stroke-width="1"/>
<line x1="362.9" y1="261.2" x2="362.9" y2="374.1" stroke="#666" stroke-width="1.4"/>
<line x1="363.4" y1="268.8" x2="363.4" y2="371.6" stroke="#666" stroke-width="1"/>
<line x1="364.0" y1="261.6" x2="364.0" y2="383.3" stroke="#999" stroke-width="1.4"/>
<line x1="364.5" y1="265.8" x2="364.5" y2="377.3" stroke="#1a1a1a" stroke-width="1"/>
<line x1="364.9" y1="257.7" x2="364.9" y2="387.6" stroke="#4d4d4d" stroke-width="1.1"/>
<line x1="365.4" y1="265.6" x2="365.4" y2="381.1" stroke="#333" stroke-width="1"/>
<line x1="366.5" y1="257.8" x2="366.5" y2="385.4" stroke="#999" stroke-width="1.1"/>
<line x1="367.0" y1="265.7" x2="367.0" y2="375.7" stroke="#666" stroke-width="1"/>
<line x1="367.7" y1="257.5" x2="367.7" y2="383.8" stroke="#808080" stroke-width="1.4"/>
<line x1="368.2" y1="263.2" x2="368.2" y2="377.9" stroke="#4d4d4d" stroke-width="1"/>
<line x1="368.5" y1="253.8" x2="368.5" y2="385.9" stroke="#c4c4c4" stroke-width="0.9"/>
<line x1="369.0" y1="260.8" x2="369.0" y2="376.3" stroke="#666" stroke-width="1"/>
<line x1="370.2" y1="253.5" x2="370.2" y2="377.0" stroke="#c4c4c4" stroke-width="1.1"/>
<line x1="370.7" y1="260.0" x2="370.7" y2="374.5" stroke="#1a1a1a" stroke-width="1"/>
<line x1="371.7" y1="259.8" x2="371.7" y2="390.3" stroke="#4d4d4d" stroke-width="1.4"/>
<line x1="372.2" y1="262.2" x2="372.2" y2="381.4" stroke="#1a1a1a" stroke-width="1"/>
<line x1="373.0" y1="249.1" x2="373.0" y2="391.9" stroke="#b0b0b0" stroke-width="1.4"/>
<line x1="373.5" y1="264.3" x2="373.5" y2="379.4" stroke="#1a1a1a" stroke-width="1"/>
<line x1="373.9" y1="250.4" x2="373.9" y2="384.0" stroke="#666" stroke-width="0.9"/>
<line x1="374.4" y1="260.7" x2="374.4" y2="378.9" stroke="#4d4d4d" stroke-width="1"/>
<line x1="375.1" y1="258.2" x2="375.1" y2="388.5" stroke="#999" stroke-width="1.1"/>
<line x1="375.6" y1="260.6" x2="375.6" y2="381.6" stroke="#333" stroke-width="1"/>
<line x1="376.2" y1="259.5" x2="376.2" y2="394.6" stroke="#b0b0b0" stroke-width="1.4"/>
<line x1="376.7" y1="262.5" x2="376.7" y2="383.2" stroke="#4d4d4d" stroke-width="1"/>
<line x1="377.7" y1="250.1" x2="377.7" y2="382.7" stroke="#808080" stroke-width="0.9"/>
<line x1="378.2" y1="255.1" x2="378.2" y2="378.9" stroke="#333" stroke-width="1"/>
<line x1="379.2" y1="255.9" x2="379.2" y2="392.2" stroke="#c4c4c4" stroke-width="0.9"/>
<line x1="379.7" y1="259.9" x2="379.7" y2="381.6" stroke="#1a1a1a" stroke-width="1"/>
<line x1="380.6" y1="256.1" x2="380.6" y2="390.4" stroke="#4d4d4d" stroke-width="0.9"/>
<line x1="381.1" y1="258.4" x2="381.1" y2="383.1" stroke="#333" stroke-width="1"/>
<line x1="381.8" y1="249.9" x2="381.8" y2="384.9" stroke="#808080" stroke-width="1.1"/>
<line x1="382.3" y1="254.2" x2="382.3" y2="379.4" stroke="#333" stroke-width="1"/>
<line x1="382.7" y1="244.5" x2="382.7" y2="392.8" stroke="#666" stroke-width="1.1"/>
<line x1="383.2" y1="251.9" x2="383.2" y2="382.7" stroke="#666" stroke-width="1"/>
<line x1="383.6" y1="253.0" x2="383.6" y2="397.1" stroke="#b0b0b0" stroke-width="1.1"/>
<line x1="384.1" y1="255.7" x2="384.1" y2="387.7" stroke="#4d4d4d" stroke-width="1"/>
<line x1="385.3" y1="247.7" x2="385.3" y2="389.5" stroke="#4d4d4d" stroke-width="1.1"/>
<line x1="385.8" y1="255.3" x2="385.8" y2="381.3" stroke="#4d4d4d" stroke-width="1"/>
<line x1="386.7" y1="245.8" x2="386.7" y2="395.8" stroke="#808080" stroke-width="0.9"/>
<line x1="387.2" y1="253.0" x2="387.2" y2="389.3" stroke="#1a1a1a" stroke-width="1"/>
<line x1="388.1" y1="241.8" x2="388.1" y2="393.0" stroke="#c4c4c4" stroke-width="1.1"/>
<line x1="388.6" y1="247.3" x2="388.6" y2="383.5" stroke="#4d4d4d" stroke-width="1"/>
<line x1="389.6" y1="245.8" x2="389.6" y2="401.1" stroke="#808080" stroke-width="1.4"/>
<line x1="390.1" y1="250.1" x2="390.1" y2="392.9" stroke="#666" stroke-width="1"/>
<line x1="391.3" y1="236.2" x2="391.3" y2="394.1" stroke="#808080" stroke-width="1.1"/>
<line x1="391.8" y1="249.0" x2="391.8" y2="389.9" stroke="#4d4d4d" stroke-width="1"/>
<line x1="392.8" y1="240.5" x2="392.8" y2="389.1" stroke="#808080" stroke-width="0.9"/>
<line x1="393.3" y1="246.0" x2="393.3" y2="386.8" stroke="#4d4d4d" stroke-width="1"/>
<line x1="394.4" y1="236.1" x2="394.4" y2="395.6" stroke="#999" stroke-width="1.4"/>
<line x1="394.9" y1="242.3" x2="394.9" y2="389.9" stroke="#333" stroke-width="1"/>
<line x1="395.4" y1="235.0" x2="395.4" y2="405.7" stroke="#808080" stroke-width="0.9"/>
<line x1="395.9" y1="243.8" x2="395.9" y2="393.7" stroke="#333" stroke-width="1"/>
<line x1="396.8" y1="231.0" x2="396.8" y2="402.8" stroke="#999" stroke-width="0.9"/>
<line x1="397.3" y1="239.2" x2="397.3" y2="389.8" stroke="#4d4d4d" stroke-width="1"/>
<line x1="397.7" y1="233.6" x2="397.7" y2="408.1" stroke="#4d4d4d" stroke-width="0.9"/>
<line x1="398.2" y1="245.2" x2="398.2" y2="398.8" stroke="#333" stroke-width="1"/>
<line x1="398.9" y1="232.9" x2="398.9" y2="401.8" stroke="#b0b0b0" stroke-width="1.1"/>
<line x1="399.4" y1="242.1" x2="399.4" y2="393.2" stroke="#666" stroke-width="1"/>
<line x1="400.7" y1="232.3" x2="400.7" y2="403.2" stroke="#b0b0b0" stroke-width="1.4"/>
<line x1="401.2" y1="238.9" x2="401.2" y2="398.3" stroke="#1a1a1a" stroke-width="1"/>
<line x1="401.9" y1="229.7" x2="401.9" y2="406.9" stroke="#4d4d4d" stroke-width="1.1"/>
<line x1="402.4" y1="236.0" x2="402.4" y2="400.9" stroke="#1a1a1a" stroke-width="1"/>
<line x1="403.3" y1="233.3" x2="403.3" y2="408.3" stroke="#4d4d4d" stroke-width="1.1"/>
<line x1="403.8" y1="237.6" x2="403.8" y2="395.7" stroke="#666" stroke-width="1"/>
<line x1="404.3" y1="231.4" x2="404.3" y2="408.3" stroke="#808080" stroke-width="0.9"/>
<line x1="404.8" y1="239.5" x2="404.8" y2="396.5" stroke="#666" stroke-width="1"/>
<line x1="406.0" y1="238.8" x2="406.0" y2="402.4" stroke="#4d4d4d" stroke-width="1.1"/>
<line x1="406.5" y1="240.3" x2="406.5" y2="395.6" stroke="#333" stroke-width="1"/>
<line x1="406.9" y1="232.8" x2="406.9" y2="407.7" stroke="#4d4d4d" stroke-width="1.1"/>
<line x1="407.4" y1="240.2" x2="407.4" y2="397.9" stroke="#1a1a1a" stroke-width="1"/>
<line x1="408.3" y1="230.3" x2="408.3" y2="406.4" stroke="#b0b0b0" stroke-width="0.9"/>
<line x1="408.8" y1="239.5" x2="408.8" y2="397.6" stroke="#666" stroke-width="1"/>
<line x1="409.3" y1="227.7" x2="409.3" y2="403.9" stroke="#b0b0b0" stroke-width="1.4"/>
<line x1="409.8" y1="233.8" x2="409.8" y2="398.5" stroke="#666" stroke-width="1"/>
<line x1="410.5" y1="224.4" x2="410.5" y2="410.8" stroke="#4d4d4d" stroke-width="1.1"/>
<line x1="411.0" y1="236.1" x2="411.0" y2="398.7" stroke="#333" stroke-width="1"/>
<line x1="411.4" y1="226.3" x2="411.4" y2="416.9" stroke="#b0b0b0" stroke-width="1.1"/>
<line x1="411.9" y1="234.2" x2="411.9" y2="400.1" stroke="#1a1a1a" stroke-width="1"/>
<line x1="412.2" y1="230.5" x2="412.2" y2="406.4" stroke="#666" stroke-width="1.4"/>
<line x1="412.7" y1="236.0" x2="412.7" y2="398.5" stroke="#666" stroke-width="1"/>
<line x1="413.2" y1="232.2" x2="413.2" y2="404.8" stroke="#b0b0b0" stroke-width="0.9"/>
<line x1="413.7" y1="236.7" x2="413.7" y2="398.4" stroke="#4d4d4d" stroke-width="1"/>
<line x1="414.5" y1="233.7" x2="414.5" y2="404.5" stroke="#666" stroke-width="0.9"/>
<line x1="415.0" y1="237.2" x2="415.0" y2="400.9" stroke="#1a1a1a" stroke-width="1"/>
<line x1="415.9" y1="224.1" x2="415.9" y2="413.5" stroke="#4d4d4d" stroke-width="1.4"/>
<line x1="416.4" y1="238.4" x2="416.4" y2="400.6" stroke="#4d4d4d" stroke-width="1"/>
<line x1="416.9" y1="227.7" x2="416.9" y2="415.1" stroke="#999" stroke-width="0.9"/>
<line x1="417.4" y1="235.5" x2="417.4" y2="404.1" stroke="#1a1a1a" stroke-width="1"/>
<line x1="417.8" y1="226.2" x2="417.8" y2="406.6" stroke="#808080" stroke-width="1.1"/>
<line x1="418.3" y1="235.3" x2="418.3" y2="403.6" stroke="#1a1a1a" stroke-width="1"/>
<line x1="419.3" y1="237.9" x2="419.3" y2="402.3" stroke="#666" stroke-width="0.9"/>
<line x1="419.8" y1="239.7" x2="419.8" y2="400.5" stroke="#666" stroke-width="1"/>
<line x1="420.9" y1="238.2" x2="420.9" y2="409.0" stroke="#999" stroke-width="1.4"/>
<line x1="421.4" y1="241.4" x2="421.4" y2="402.4" stroke="#666" stroke-width="1"/>
<line x1="422.1" y1="240.6" x2="422.1" y2="418.8" stroke="#c4c4c4" stroke-width="0.9"/>
<line x1="422.6" y1="242.4" x2="422.6" y2="403.5" stroke="#333" stroke-width="1"/>
<line x1="423.5" y1="237.5" x2="423.5" y2="407.1" stroke="#999" stroke-width="1.4"/>
<line x1="424.0" y1="242.7" x2="424.0" y2="400.0" stroke="#1a1a1a" stroke-width="1"/>
<line x1="425.0" y1="238.0" x2="425.0" y2="418.0" stroke="#b0b0b0" stroke-width="1.1"/>
<line x1="425.5" y1="242.9" x2="425.5" y2="403.4" stroke="#4d4d4d" stroke-width="1"/>
<line x1="425.9" y1="234.6" x2="425.9" y2="403.4" stroke="#c4c4c4" stroke-width="1.4"/>
<line x1="426.4" y1="244.1" x2="426.4" y2="400.1" stroke="#333" stroke-width="1"/>
<line x1="427.5" y1="236.1" x2="427.5" y2="402.6" stroke="#666" stroke-width="0.9"/>
<line x1="428.0" y1="240.3" x2="428.0" y2="399.9" stroke="#333" stroke-width="1"/>
<line x1="429.1" y1="240.6" x2="429.1" y2="415.8" stroke="#b0b0b0" stroke-width="0.9"/>
<line x1="429.6" y1="244.3" x2="429.6" y2="407.3" stroke="#333" stroke-width="1"/>
<line x1="430.3" y1="241.6" x2="430.3" y2="408.4" stroke="#4d4d4d" stroke-width="1.4"/>
<line x1="430.8" y1="245.8" x2="430.8" y2="400.7" stroke="#666" stroke-width="1"/>
<line x1="431.9" y1="244.3" x2="431.9" y2="418.4" stroke="#b0b0b0" stroke-width="0.9"/>
<line x1="432.4" y1="248.7" x2="432.4" y2="402.7" stroke="#4d4d4d" stroke-width="1"/>
<line x1="433.3" y1="247.6" x2="433.3" y2="407.1" stroke="#b0b0b0" stroke-width="1.1"/>
<line x1="433.8" y1="249.4" x2="433.8" y2="401.6" stroke="#4d4d4d" stroke-width="1"/>
<line x1="434.3" y1="239.3" x2="434.3" y2="416.4" stroke="#b0b0b0" stroke-width="0.9"/>
<line x1="434.8" y1="247.3" x2="434.8" y2="403.8" stroke="#4d4d4d" stroke-width="1"/>
<line x1="435.7" y1="248.5" x2="435.7" y2="416.7" stroke="#c4c4c4" stroke-width="1.4"/>
<line x1="436.2" y1="251.7" x2="436.2" y2="398.2" stroke="#333" stroke-width="1"/>
<line x1="437.1" y1="241.8" x2="437.1" y2="402.0" stroke="#999" stroke-width="1.4"/>
<line x1="437.6" y1="249.3" x2="437.6" y2="398.5" stroke="#666" stroke-width="1"/>
<line x1="438.8" y1="249.2" x2="438.8" y2="407.6" stroke="#4d4d4d" stroke-width="1.1"/>
<line x1="439.3" y1="255.2" x2="439.3" y2="400.8" stroke="#333" stroke-width="1"/>
<line x1="440.2" y1="254.6" x2="440.2" y2="415.4" stroke="#666" stroke-width="1.4"/>
<line x1="440.7" y1="256.5" x2="440.7" y2="398.3" stroke="#4d4d4d" stroke-width="1"/>
<line x1="441.8" y1="253.0" x2="441.8" y2="414.8" stroke="#666" stroke-width="1.4"/>
<line x1="442.3" y1="256.0" x2="442.3" y2="398.7" stroke="#4d4d4d" stroke-width="1"/>
<line x1="443.2" y1="257.2" x2="443.2" y2="398.9" stroke="#666" stroke-width="1.4"/>
<line x1="443.7" y1="259.7" x2="443.7" y2="397.4" stroke="#333" stroke-width="1"/>
<line x1="444.7" y1="254.4" x2="444.7" y2="408.7" stroke="#4d4d4d" stroke-width="0.9"/>
<line x1="445.2" y1="259.9" x2="445.2" y2="396.3" stroke="#333" stroke-width="1"/>
<line x1="446.0" y1="261.3" x2="446.0" y2="405.0" stroke="#808080" stroke-width="1.4"/>
<line x1="446.5" y1="264.3" x2="446.5" y2="398.8" stroke="#333" stroke-width="1"/>
<line x1="447.2" y1="257.2" x2="447.2" y2="398.0" stroke="#c4c4c4" stroke-width="0.9"/>
<line x1="447.7" y1="261.8" x2="447.7" y2="396.2" stroke="#666" stroke-width="1"/>
<line x1="448.4" y1="264.0" x2="448.4" y2="408.1" stroke="#c4c4c4" stroke-width="1.4"/>
<line x1="448.9" y1="268.2" x2="448.9" y2="398.7" stroke="#666" stroke-width="1"/>
<line x1="450.2" y1="263.1" x2="450.2" y2="411.6" stroke="#999" stroke-width="1.1"/>
<line x1="450.7" y1="272.2" x2="450.7" y2="403.7" stroke="#1a1a1a" stroke-width="1"/>
<line x1="316.8" y1="232.8" x2="316.8" y2="385.5" stroke="#555" stroke-width="1.2"/>
<line x1="330.0" y1="219.6" x2="330.0" y2="396.0" stroke="#aaa" stroke-width="1.8"/>
<line x1="338.5" y1="219.6" x2="338.5" y2="400.0" stroke="#aaa" stroke-width="1.6"/>
<line x1="350.5" y1="219.6" x2="350.5" y2="406.0" stroke="#333" stroke-width="1.2"/>
<line x1="354.8" y1="233.0" x2="354.8" y2="393.0" stroke="#666" stroke-width="1"/>
<line x1="361.3" y1="219.6" x2="361.3" y2="410.0" stroke="#444" stroke-width="1.2"/>
<line x1="363.7" y1="220.0" x2="363.7" y2="410.0" stroke="#555" stroke-width="1"/>
<line x1="371.0" y1="237.0" x2="371.0" y2="400.0" stroke="#444" stroke-width="1"/>
<line x1="379.3" y1="240.0" x2="379.3" y2="395.0" stroke="#888" stroke-width="1.4"/>
<line x1="385.3" y1="232.0" x2="385.3" y2="405.0" stroke="#888" stroke-width="1.4"/>
<line x1="387.7" y1="224.0" x2="387.7" y2="410.0" stroke="#444" stroke-width="1.2"/>
<line x1="392.5" y1="238.0" x2="392.5" y2="405.0" stroke="#555" stroke-width="1"/>
<line x1="398.0" y1="226.0" x2="398.0" y2="408.0" stroke="#555" stroke-width="1"/>
<line x1="405.0" y1="228.0" x2="405.0" y2="412.0" stroke="#444" stroke-width="1"/>
<line x1="410.0" y1="224.0" x2="410.0" y2="414.0" stroke="#777" stroke-width="1.2"/>
<line x1="418.0" y1="222.0" x2="418.0" y2="416.0" stroke="#666" stroke-width="1"/>
<line x1="425.0" y1="226.0" x2="425.0" y2="414.0" stroke="#555" stroke-width="1"/>
<line x1="432.0" y1="230.0" x2="432.0" y2="418.0" stroke="#888" stroke-width="1.2"/>
<line x1="437.0" y1="226.0" x2="437.0" y2="416.0" stroke="#666" stroke-width="1"/>
<line x1="449.0" y1="219.0" x2="449.0" y2="420.0" stroke="#777" stroke-width="1.3"/>
<line x1="453.0" y1="262.0" x2="453.0" y2="408.0" stroke="#888" stroke-width="1.3"/>
<line x1="456.3" y1="265.0" x2="456.3" y2="405.0" stroke="#999" stroke-width="1.2"/>
<line x1="460.0" y1="270.0" x2="460.0" y2="400.0" stroke="#999" stroke-width="1.2"/>
<line x1="464.7" y1="275.0" x2="464.7" y2="405.0" stroke="#aaa" stroke-width="1.2"/>
<line x1="467.0" y1="268.0" x2="467.0" y2="400.0" stroke="#aaa" stroke-width="1.2"/>
<line x1="343.0" y1="239.3" x2="343.0" y2="399.3" stroke="#111" stroke-width="1.1"/>
<line x1="348.2" y1="231.8" x2="348.2" y2="405.3" stroke="#777" stroke-width="1.4"/>
<line x1="351.9" y1="232.6" x2="351.9" y2="411.1" stroke="#999" stroke-width="0.9"/>
<line x1="355.1" y1="249.9" x2="355.1" y2="393.0" stroke="#bbb" stroke-width="1.1"/>
<line x1="360.5" y1="237.7" x2="360.5" y2="388.5" stroke="#333" stroke-width="1.4"/>
<line x1="363.9" y1="235.1" x2="363.9" y2="392.8" stroke="#111" stroke-width="1.4"/>
<line x1="369.3" y1="244.0" x2="369.3" y2="413.6" stroke="#777" stroke-width="1.4"/>
<line x1="374.2" y1="229.3" x2="374.2" y2="409.6" stroke="#999" stroke-width="0.9"/>
<line x1="379.4" y1="225.3" x2="379.4" y2="411.1" stroke="#111" stroke-width="1.4"/>
<line x1="383.7" y1="237.0" x2="383.7" y2="394.8" stroke="#aaa" stroke-width="1.1"/>
<line x1="386.2" y1="227.7" x2="386.2" y2="399.5" stroke="#777" stroke-width="1.4"/>
<line x1="389.9" y1="233.8" x2="389.9" y2="404.3" stroke="#111" stroke-width="1.1"/>
<line x1="392.5" y1="251.7" x2="392.5" y2="395.2" stroke="#777" stroke-width="0.9"/>
<line x1="397.8" y1="254.3" x2="397.8" y2="400.6" stroke="#333" stroke-width="0.9"/>
<line x1="401.2" y1="252.4" x2="401.2" y2="414.6" stroke="#333" stroke-width="1.1"/>
<line x1="406.2" y1="233.7" x2="406.2" y2="400.6" stroke="#333" stroke-width="1.4"/>
<line x1="411.4" y1="254.8" x2="411.4" y2="391.7" stroke="#aaa" stroke-width="0.9"/>
<line x1="414.4" y1="251.0" x2="414.4" y2="386.7" stroke="#111" stroke-width="1.1"/>
<line x1="419.1" y1="232.3" x2="419.1" y2="414.7" stroke="#bbb" stroke-width="1.1"/>
<line x1="423.8" y1="226.5" x2="423.8" y2="408.0" stroke="#bbb" stroke-width="1.1"/>
<line x1="427.5" y1="227.6" x2="427.5" y2="413.4" stroke="#111" stroke-width="1.4"/>
<line x1="432.1" y1="230.9" x2="432.1" y2="408.8" stroke="#999" stroke-width="1.4"/>
<line x1="435.5" y1="231.0" x2="435.5" y2="411.5" stroke="#999" stroke-width="0.9"/>
<line x1="439.7" y1="229.6" x2="439.7" y2="394.9" stroke="#333" stroke-width="1.4"/>
<line x1="442.9" y1="226.4" x2="442.9" y2="407.0" stroke="#777" stroke-width="0.9"/>
<line x1="446.7" y1="239.4" x2="446.7" y2="402.5" stroke="#111" stroke-width="0.9"/>
<polygon points="265.6,300.8 266.4,300.8 267.1,299.7 267.8,299.7 268.6,298.3 269.3,298.3 270.2,298.0 270.9,298.0 271.3,297.5 272.0,297.5 272.8,296.6 273.5,296.6 273.7,295.8 274.4,295.8 275.1,295.3 275.8,295.3 276.3,292.4 277.0,292.4 277.8,290.3 278.5,290.3 279.0,288.6 279.7,288.6 280.2,289.8 280.9,289.8 281.5,292.4 282.2,292.4 282.4,291.1 283.1,291.1 283.9,289.9 284.6,289.9 284.7,291.4 285.4,291.4 286.1,289.1 286.8,289.1 287.1,284.5 287.8,284.5 288.5,289.6 289.2,289.6 290.1,290.0 290.8,290.0 290.9,286.3 291.6,286.3 292.4,291.0 293.1,291.0 293.9,285.5 294.6,285.5 294.8,288.4 295.5,288.4 296.4,284.9 297.1,284.9 297.5,285.8 298.2,285.8 299.0,292.6 299.7,292.6 300.1,293.2 300.8,293.2 301.2,283.0 301.9,283.0 302.1,287.2 302.8,287.2 302.9,290.7 303.6,290.7 303.9,287.1 304.6,287.1 305.0,286.6 305.7,286.6 305.8,289.1 306.5,289.1 307.4,291.7 308.1,291.7 308.8,284.6 309.5,284.6 309.9,285.7 310.6,285.7 311.0,294.1 311.7,294.1 312.1,293.9 312.8,293.9 313.3,296.6 314.0,296.6 314.2,294.1 314.9,294.1 315.3,288.0 316.0,288.0 316.6,287.2 317.3,287.2 318.2,293.8 318.9,293.8 319.5,295.7 320.2,295.7 321.0,288.6 321.7,288.6 322.0,287.8 322.7,287.8 323.0,289.1 323.7,289.1 324.3,293.6 325.0,293.6 325.9,291.2 326.6,291.2 327.2,293.9 327.9,293.9 328.4,281.4 329.1,281.4 329.4,283.0 330.1,283.0 330.3,283.1 331.0,283.1 331.5,287.6 332.2,287.6 332.7,292.8 333.4,292.8 333.7,288.1 334.4,288.1 335.0,288.3 335.7,288.3 336.4,285.0 337.1,285.0 337.2,288.7 337.9,288.7 338.4,288.6 339.1,288.6 339.2,280.2 339.9,280.2 340.8,277.5 341.5,277.5 341.9,284.1 342.6,284.1 343.2,287.6 343.9,287.6 344.4,279.2 345.1,279.2 345.4,279.3 346.1,279.3 346.4,275.0 347.1,275.0 347.4,278.7 348.1,278.7 348.3,270.6 349.0,270.6 349.4,272.4 350.1,272.4 350.7,278.4 351.4,278.4 351.9,275.0 352.6,275.0 352.8,270.5 353.5,270.5 354.3,273.7 355.0,273.7 355.7,276.2 356.4,276.2 357.3,272.5 358.0,272.5 358.3,279.1 359.0,279.1 359.4,276.1 360.1,276.1 360.5,268.9 361.2,268.9 361.4,276.0 362.1,276.0 362.4,264.9 363.1,264.9 363.4,261.4 364.1,261.4 364.3,277.0 365.0,277.0 365.7,269.2 366.4,269.2 366.7,268.8 367.4,268.8 367.8,272.5 368.5,272.5 369.3,271.8 370.0,271.8 370.7,269.7 371.4,269.7 371.7,270.6 372.4,270.6 372.8,270.1 373.5,270.1 374.4,270.7 375.1,270.7 375.5,271.1 376.2,271.1 376.5,270.1 377.2,270.1 377.9,254.4 378.6,254.4 378.9,267.8 379.6,267.8 379.9,255.4 380.6,255.4 381.1,261.0 381.8,261.0 382.3,254.9 383.0,254.9 383.4,255.5 384.1,255.5 384.9,247.9 385.6,247.9 386.4,261.2 387.1,261.2 387.2,257.0 387.9,257.0 388.6,254.5 389.3,254.5 389.5,253.2 390.2,253.2 390.4,260.3 391.1,260.3 391.5,254.2 392.2,254.2 392.9,253.1 393.6,253.1 394.0,254.8 394.7,254.8 395.0,255.4 395.7,255.4 396.1,253.5 396.8,253.5 397.2,240.4 397.9,240.4 398.2,248.9 398.9,248.9 399.2,251.7 399.9,251.7 400.1,251.9 400.8,251.9 401.5,249.3 402.2,249.3 402.3,248.6 403.0,248.6 403.4,248.6 404.1,248.6 405.0,245.4 405.7,245.4 406.6,241.8 407.3,241.8 407.5,249.8 408.2,249.8 408.9,241.0 409.6,241.0 410.3,242.0 411.0,242.0 411.2,243.6 411.9,243.6 412.7,239.0 413.4,239.0 413.6,245.5 414.3,245.5 414.5,231.8 415.2,231.8 415.4,240.4 416.1,240.4 416.9,231.7 417.6,231.7 418.0,245.7 418.7,245.7 418.8,242.1 419.5,242.1 419.7,239.0 420.4,239.0 421.0,249.9 421.7,249.9 421.9,251.1 422.6,251.1 423.4,252.4 424.1,252.4 424.5,241.6 425.2,241.6 425.7,248.6 426.4,248.6 426.6,250.7 427.3,250.7 427.7,240.7 428.4,240.7 428.5,242.5 429.2,242.5 429.6,243.1 430.3,243.1 430.6,253.4 431.3,253.4 431.6,252.3 432.3,252.3 432.7,243.0 433.4,243.0 433.8,254.7 434.5,254.7 434.7,259.5 435.4,259.5 436.2,259.9 436.9,259.9 437.5,255.3 438.2,255.3 439.0,265.0 439.7,265.0 440.4,261.5 441.1,261.5 441.8,260.0 442.5,260.0 443.1,252.9 443.8,252.9 444.6,263.9 445.3,263.9 445.5,261.0 446.2,261.0 446.8,276.6 447.5,276.6 448.3,267.6 449.0,267.6 449.2,278.0 449.9,278.0 450.5,286.0 451.2,286.0 451.2,390.8 450.5,390.8 449.9,389.2 449.2,389.2 449.0,397.6 448.3,397.6 447.5,390.8 446.8,390.8 446.2,391.5 445.5,391.5 445.3,392.3 444.6,392.3 443.8,395.3 443.1,395.3 442.5,395.5 441.8,395.5 441.1,399.4 440.4,399.4 439.7,396.4 439.0,396.4 438.2,390.8 437.5,390.8 436.9,397.5 436.2,397.5 435.4,397.6 434.7,397.6 434.5,390.8 433.8,390.8 433.4,392.3 432.7,392.3 432.3,391.4 431.6,391.4 431.3,399.5 430.6,399.5 430.3,395.7 429.6,395.7 429.2,390.3 428.5,390.3 428.4,394.6 427.7,394.6 427.3,399.8 426.6,399.8 426.4,405.7 425.7,405.7 425.2,392.3 424.5,392.3 424.1,393.9 423.4,393.9 422.6,396.0 421.9,396.0 421.7,401.1 421.0,401.1 420.4,398.7 419.7,398.7 419.5,391.6 418.8,391.6 418.7,391.2 418.0,391.2 417.6,391.3 416.9,391.3 416.1,394.9 415.4,394.9 415.2,402.3 414.5,402.3 414.3,403.1 413.6,403.1 413.4,394.9 412.7,394.9 411.9,397.3 411.2,397.3 411.0,389.7 410.3,389.7 409.6,394.8 408.9,394.8 408.2,398.8 407.5,398.8 407.3,391.1 406.6,391.1 405.7,387.0 405.0,387.0 404.1,388.3 403.4,388.3 403.0,389.0 402.3,389.0 402.2,389.8 401.5,389.8 400.8,391.4 400.1,391.4 399.9,384.0 399.2,384.0 398.9,394.0 398.2,394.0 397.9,381.2 397.2,381.2 396.8,392.2 396.1,392.2 395.7,381.8 395.0,381.8 394.7,393.9 394.0,393.9 393.6,381.8 392.9,381.8 392.2,383.3 391.5,383.3 391.1,377.5 390.4,377.5 390.2,374.4 389.5,374.4 389.3,381.3 388.6,381.3 387.9,386.7 387.2,386.7 387.1,379.7 386.4,379.7 385.6,385.8 384.9,385.8 384.1,372.6 383.4,372.6 383.0,379.9 382.3,379.9 381.8,371.8 381.1,371.8 380.6,372.7 379.9,372.7 379.6,373.9 378.9,373.9 378.6,368.6 377.9,368.6 377.2,371.0 376.5,371.0 376.2,375.3 375.5,375.3 375.1,373.1 374.4,373.1 373.5,379.0 372.8,379.0 372.4,379.8 371.7,379.8 371.4,368.4 370.7,368.4 370.0,380.6 369.3,380.6 368.5,371.4 367.8,371.4 367.4,377.9 366.7,377.9 366.4,369.9 365.7,369.9 365.0,375.1 364.3,375.1 364.1,377.5 363.4,377.5 363.1,367.2 362.4,367.2 362.1,371.6 361.4,371.6 361.2,376.3 360.5,376.3 360.1,362.5 359.4,362.5 359.0,372.1 358.3,372.1 358.0,359.7 357.3,359.7 356.4,359.9 355.7,359.9 355.0,361.3 354.3,361.3 353.5,366.6 352.8,366.6 352.6,365.3 351.9,365.3 351.4,355.0 350.7,355.0 350.1,358.9 349.4,358.9 349.0,352.7 348.3,352.7 348.1,361.6 347.4,361.6 347.1,357.8 346.4,357.8 346.1,358.5 345.4,358.5 345.1,357.6 344.4,357.6 343.9,349.3 343.2,349.3 342.6,360.5 341.9,360.5 341.5,353.7 340.8,353.7 339.9,354.7 339.2,354.7 339.1,351.7 338.4,351.7 337.9,360.1 337.2,360.1 337.1,355.5 336.4,355.5 335.7,346.8 335.0,346.8 334.4,345.6 333.7,345.6 333.4,357.5 332.7,357.5 332.2,353.1 331.5,353.1 331.0,344.0 330.3,344.0 330.1,350.5 329.4,350.5 329.1,346.5 328.4,346.5 327.9,354.6 327.2,354.6 326.6,355.1 325.9,355.1 325.0,343.6 324.3,343.6 323.7,352.9 323.0,352.9 322.7,354.3 322.0,354.3 321.7,340.5 321.0,340.5 320.2,355.1 319.5,355.1 318.9,343.0 318.2,343.0 317.3,342.0 316.6,342.0 316.0,345.3 315.3,345.3 314.9,346.8 314.2,346.8 314.0,346.8 313.3,346.8 312.8,345.3 312.1,345.3 311.7,347.0 311.0,347.0 310.6,347.2 309.9,347.2 309.5,348.9 308.8,348.9 308.1,350.4 307.4,350.4 306.5,339.4 305.8,339.4 305.7,345.6 305.0,345.6 304.6,348.4 303.9,348.4 303.6,347.7 302.9,347.7 302.8,340.7 302.1,340.7 301.9,335.6 301.2,335.6 300.8,343.5 300.1,343.5 299.7,346.6 299.0,346.6 298.2,339.9 297.5,339.9 297.1,343.4 296.4,343.4 295.5,340.6 294.8,340.6 294.6,340.1 293.9,340.1 293.1,330.7 292.4,330.7 291.6,330.7 290.9,330.7 290.8,331.6 290.1,331.6 289.2,333.9 288.5,333.9 287.8,330.1 287.1,330.1 286.8,331.0 286.1,331.0 285.4,329.7 284.7,329.7 284.6,330.6 283.9,330.6 283.1,324.8 282.4,324.8 282.2,327.1 281.5,327.1 280.9,323.9 280.2,323.9 279.7,318.9 279.0,318.9 278.5,319.8 277.8,319.8 277.0,316.8 276.3,316.8 275.8,318.2 275.1,318.2 274.4,314.3 273.7,314.3 273.5,315.1 272.8,315.1 272.0,310.1 271.3,310.1 270.9,310.2 270.2,310.2 269.3,308.3 268.6,308.3 267.8,308.3 267.1,308.3 266.4,306.2 265.6,306.2" fill="#050505"/>
<polygon points="451,343 465,346.5 476,349 483.5,351.5 484.5,354.5 483,357.5 470,355.5 451,353" fill="#080808"/>
<line x1="455" y1="342.1" x2="455" y2="353.6" stroke="#222" stroke-width="1"/>
<line x1="458" y1="341.8" x2="458" y2="354.1" stroke="#222" stroke-width="1"/>
<line x1="461" y1="344.0" x2="461" y2="354.5" stroke="#222" stroke-width="1"/>
<line x1="466" y1="345.3" x2="466" y2="355.2" stroke="#222" stroke-width="1"/>
<line x1="470" y1="344.9" x2="470" y2="355.9" stroke="#222" stroke-width="1"/>
<line x1="474" y1="346.5" x2="474" y2="356.4" stroke="#222" stroke-width="1"/>
<line x1="478" y1="348.5" x2="478" y2="357.1" stroke="#222" stroke-width="1"/>
<line x1="564.2" y1="443.6" x2="961.4" y2="443.6" stroke="#111" stroke-width="2.4"/>
<line x1="581.9" y1="443.6" x2="581.9" y2="452.6" stroke="#111" stroke-width="2.2"/>
<line x1="613.5" y1="443.6" x2="613.5" y2="452.6" stroke="#111" stroke-width="2.2"/>
<line x1="645.1" y1="443.6" x2="645.1" y2="452.6" stroke="#111" stroke-width="2.2"/>
<line x1="676.7" y1="443.6" x2="676.7" y2="452.6" stroke="#111" stroke-width="2.2"/>
<line x1="708.2" y1="443.6" x2="708.2" y2="452.6" stroke="#111" stroke-width="2.2"/>
<line x1="739.8" y1="443.6" x2="739.8" y2="452.6" stroke="#111" stroke-width="2.2"/>
<line x1="771.4" y1="443.6" x2="771.4" y2="452.6" stroke="#111" stroke-width="2.2"/>
<line x1="803.0" y1="443.6" x2="803.0" y2="452.6" stroke="#111" stroke-width="2.2"/>
<line x1="834.6" y1="443.6" x2="834.6" y2="452.6" stroke="#111" stroke-width="2.2"/>
<line x1="866.1" y1="443.6" x2="866.1" y2="452.6" stroke="#111" stroke-width="2.2"/>
<line x1="897.7" y1="443.6" x2="897.7" y2="452.6" stroke="#111" stroke-width="2.2"/>
<line x1="929.3" y1="443.6" x2="929.3" y2="452.6" stroke="#111" stroke-width="2.2"/>
<line x1="960.9" y1="443.6" x2="960.9" y2="452.6" stroke="#111" stroke-width="2.2"/>
<text x="613.5" y="474.4" font-size="22" font-weight="normal" text-anchor="middle" fill="#1b1b1b" stroke="#1b1b1b" stroke-width="0.4">0</text>
<text x="676.7" y="474.4" font-size="22" font-weight="normal" text-anchor="middle" fill="#1b1b1b" stroke="#1b1b1b" stroke-width="0.4">2</text>
<text x="739.8" y="474.4" font-size="22" font-weight="normal" text-anchor="middle" fill="#1b1b1b" stroke="#1b1b1b" stroke-width="0.4">4</text>
<text x="803.0" y="474.4" font-size="22" font-weight="normal" text-anchor="middle" fill="#1b1b1b" stroke="#1b1b1b" stroke-width="0.4">6</text>
<text x="866.1" y="474.4" font-size="22" font-weight="normal" text-anchor="middle" fill="#1b1b1b" stroke="#1b1b1b" stroke-width="0.4">8</text>
<text x="929.9" y="474.4" font-size="22" font-weight="normal" text-anchor="middle" fill="#1b1b1b" stroke="#1b1b1b" stroke-width="0.4">10</text>
<text x="713.0" y="498.1" font-size="21.5" font-weight="normal" text-anchor="start" fill="#1b1b1b" stroke="#1b1b1b" stroke-width="0.4" textLength="107.0" lengthAdjust="spacingAndGlyphs">Time (min)</text>
<text x="552.5" y="207.7" font-size="21.5" font-weight="normal" text-anchor="start" fill="#1b1b1b" stroke="#1b1b1b" stroke-width="0.4" textLength="37.8" lengthAdjust="spacingAndGlyphs">ISO</text>
<line x1="594.0" y1="203.9" x2="609.4" y2="215.4" stroke="#1a1a1a" stroke-width="1.5"/>
<polygon points="614.2,219.0 606.7,217.4 610.5,212.2" fill="#1a1a1a"/>
<polyline points="612.6,374.0 612.6,221.6 925.7,221.6 925.7,346.9" fill="none" stroke="#a2a7ad" stroke-width="2.0" stroke-linejoin="round" stroke-linejoin="miter"/>
<polyline points="581.4,368.7 583.0,371.8 584.3,369.9 585.6,371.7 586.9,373.3 588.2,372.9 589.5,372.3 590.8,370.7 592.1,371.1 593.4,370.4 594.7,372.6 596.0,371.7 597.3,372.6 598.6,371.0 599.9,370.6 601.2,372.7 602.5,373.3 603.8,372.9 605.1,372.7 606.4,372.7 607.7,372.5 609.0,370.6 610.6,376.7 612.0,372.0" fill="none" stroke="#111" stroke-width="1.1" stroke-linejoin="round"/>
<polyline points="925.7,346.5 927.5,345.0 928.9,344.6 930.3,343.7 931.7,343.7 933.1,344.4 934.5,344.3 935.9,345.5 937.3,346.3 938.7,344.9 940.1,346.2 941.5,346.4 942.9,346.3 944.3,344.6 945.7,344.2 947.1,344.2 948.5,344.2 949.9,344.2" fill="none" stroke="#222" stroke-width="1.0" stroke-linejoin="round"/>
<text x="15.3" y="546.6" font-size="24" font-weight="bold" text-anchor="start" fill="#1b1b1b" stroke="#1b1b1b" stroke-width="0.4">B</text>
<line x1="86.9" y1="567.6" x2="86.9" y2="806.0" stroke="#111" stroke-width="2.2"/>
<line x1="82.9" y1="805.0" x2="321.3" y2="805.0" stroke="#111" stroke-width="2.6"/>
<line x1="82.9" y1="757.6" x2="86.9" y2="757.6" stroke="#111" stroke-width="2.2"/>
<line x1="82.9" y1="710.4" x2="86.9" y2="710.4" stroke="#111" stroke-width="2.2"/>
<line x1="82.9" y1="663.1" x2="86.9" y2="663.1" stroke="#111" stroke-width="2.2"/>
<line x1="82.9" y1="615.9" x2="86.9" y2="615.9" stroke="#111" stroke-width="2.2"/>
<line x1="82.9" y1="568.6" x2="86.9" y2="568.6" stroke="#111" stroke-width="2.2"/>
<text x="75.6" y="812.9" font-size="22" font-weight="normal" text-anchor="end" fill="#1b1b1b" stroke="#1b1b1b" stroke-width="0.4" textLength="11.8" lengthAdjust="spacingAndGlyphs">0</text>
<text x="75.6" y="765.6" font-size="22" font-weight="normal" text-anchor="end" fill="#1b1b1b" stroke="#1b1b1b" stroke-width="0.4" textLength="23.8" lengthAdjust="spacingAndGlyphs">20</text>
<text x="75.6" y="718.4" font-size="22" font-weight="normal" text-anchor="end" fill="#1b1b1b" stroke="#1b1b1b" stroke-width="0.4" textLength="23.8" lengthAdjust="spacingAndGlyphs">40</text>
<text x="75.6" y="671.1" font-size="22" font-weight="normal" text-anchor="end" fill="#1b1b1b" stroke="#1b1b1b" stroke-width="0.4" textLength="23.8" lengthAdjust="spacingAndGlyphs">60</text>
<text x="75.6" y="623.9" font-size="22" font-weight="normal" text-anchor="end" fill="#1b1b1b" stroke="#1b1b1b" stroke-width="0.4" textLength="23.8" lengthAdjust="spacingAndGlyphs">80</text>
<text x="75.6" y="578.4" font-size="22" font-weight="normal" text-anchor="end" fill="#1b1b1b" stroke="#1b1b1b" stroke-width="0.4" textLength="34.6" lengthAdjust="spacingAndGlyphs">100</text>
<text x="31.9" y="803.3" font-size="22" font-weight="normal" text-anchor="start" fill="#1b1b1b" stroke="#1b1b1b" stroke-width="0.4" textLength="244.0" lengthAdjust="spacingAndGlyphs" transform="rotate(-90 31.9 803.3)">Mice with arrhythmias %</text>
<rect x="107.40" y="657.00" width="76.30" height="148.20" fill="#a1a0a5" stroke="#000" stroke-width="2.6"/>
<rect x="106.10" y="655.50" width="78.90" height="3.0" fill="#000"/>
<rect x="224.50" y="775.30" width="76.30" height="29.90" fill="#046604" stroke="#000" stroke-width="2.6"/>
<rect x="223.20" y="773.80" width="78.90" height="3.0" fill="#000"/>
<line x1="145.7" y1="805.0" x2="145.7" y2="812.0" stroke="#111" stroke-width="2"/>
<line x1="262.4" y1="805.0" x2="262.4" y2="812.0" stroke="#111" stroke-width="2"/>
<text x="125.6" y="797.8" font-size="21" font-weight="bold" text-anchor="start" fill="#1b1b1b" stroke="#1b1b1b" stroke-width="0.4" textLength="41.6" lengthAdjust="spacingAndGlyphs">N=5</text>
<text x="241.2" y="800.0" font-size="21" font-weight="bold" text-anchor="start" fill="#e6f7e2" stroke="#e6f7e2" stroke-width="0.4" textLength="38.6" lengthAdjust="spacingAndGlyphs">N=1</text>
<text x="104.3" y="835.7" font-size="22" font-weight="normal" text-anchor="start" fill="#1b1b1b" stroke="#1b1b1b" stroke-width="0.4" textLength="83.2" lengthAdjust="spacingAndGlyphs">ISO/caff</text>
<text x="204.3" y="836.4" font-size="22" font-weight="normal" text-anchor="start" fill="#1b1b1b" stroke="#1b1b1b" stroke-width="0.4" textLength="125.6" lengthAdjust="spacingAndGlyphs">Atrial pacing</text>
<text x="224.6" y="863.4" font-size="22" font-weight="normal" text-anchor="start" fill="#1b1b1b" stroke="#1b1b1b" stroke-width="0.4" textLength="83.3" lengthAdjust="spacingAndGlyphs">ISO/caff</text>
<text x="372.8" y="546.6" font-size="24" font-weight="bold" text-anchor="start" fill="#1b1b1b" stroke="#1b1b1b" stroke-width="0.4">C</text>
<line x1="431.8" y1="574.3" x2="431.8" y2="806.0" stroke="#111" stroke-width="2.2"/>
<line x1="425.5" y1="805.2" x2="686.2" y2="805.2" stroke="#111" stroke-width="2.6"/>
<line x1="426.6" y1="759.4" x2="431.8" y2="759.4" stroke="#111" stroke-width="2.2"/>
<text x="423.2" y="768.3" font-size="21.5" font-weight="normal" text-anchor="end" fill="#1b1b1b" stroke="#1b1b1b" stroke-width="0.4" textLength="31.2" lengthAdjust="spacingAndGlyphs">0.5</text>
<line x1="426.6" y1="713.4" x2="431.8" y2="713.4" stroke="#111" stroke-width="2.2"/>
<text x="423.2" y="722.3" font-size="21.5" font-weight="normal" text-anchor="end" fill="#1b1b1b" stroke="#1b1b1b" stroke-width="0.4" textLength="31.2" lengthAdjust="spacingAndGlyphs">1.0</text>
<line x1="426.6" y1="667.4" x2="431.8" y2="667.4" stroke="#111" stroke-width="2.2"/>
<text x="423.2" y="676.3" font-size="21.5" font-weight="normal" text-anchor="end" fill="#1b1b1b" stroke="#1b1b1b" stroke-width="0.4" textLength="31.2" lengthAdjust="spacingAndGlyphs">1.5</text>
<line x1="426.6" y1="621.4" x2="431.8" y2="621.4" stroke="#111" stroke-width="2.2"/>
<text x="423.2" y="630.3" font-size="21.5" font-weight="normal" text-anchor="end" fill="#1b1b1b" stroke="#1b1b1b" stroke-width="0.4" textLength="31.2" lengthAdjust="spacingAndGlyphs">2.0</text>
<line x1="426.6" y1="575.4" x2="431.8" y2="575.4" stroke="#111" stroke-width="2.2"/>
<text x="423.2" y="584.3" font-size="21.5" font-weight="normal" text-anchor="end" fill="#1b1b1b" stroke="#1b1b1b" stroke-width="0.4" textLength="31.2" lengthAdjust="spacingAndGlyphs">2.5</text>
<text x="411.0" y="815.4" font-size="21.5" font-weight="normal" text-anchor="middle" fill="#1b1b1b" stroke="#1b1b1b" stroke-width="0.4">0</text>
<text x="382.4" y="779.7" font-size="22" font-weight="normal" text-anchor="start" fill="#1b1b1b" stroke="#1b1b1b" stroke-width="0.4" textLength="175.5" lengthAdjust="spacingAndGlyphs" transform="rotate(-90 382.4 779.7)">Arrhythmia score</text>
<rect x="453.10" y="655.60" width="84.50" height="149.60" fill="#a1a0a5" stroke="#000" stroke-width="2.6"/>
<rect x="451.80" y="654.10" width="87.10" height="3.0" fill="#000"/>
<line x1="495.6" y1="655.8" x2="495.6" y2="601.2" stroke="#222" stroke-width="2"/>
<line x1="473.8" y1="601.2" x2="517.2" y2="601.2" stroke="#222" stroke-width="2.2"/>
<rect x="580.70" y="794.10" width="82.70" height="11.10" fill="#046604" stroke="#000" stroke-width="2.6"/>
<rect x="579.40" y="792.60" width="85.30" height="3.0" fill="#000"/>
<line x1="622.3" y1="792.9" x2="622.3" y2="782.3" stroke="#222" stroke-width="2"/>
<line x1="600.4" y1="782.3" x2="643.3" y2="782.3" stroke="#222" stroke-width="2.2"/>
<line x1="495.4" y1="805.0" x2="495.4" y2="813.0" stroke="#111" stroke-width="2"/>
<line x1="622.3" y1="805.0" x2="622.3" y2="812.0" stroke="#111" stroke-width="2"/>
<text x="455.1" y="835.4" font-size="22" font-weight="normal" text-anchor="start" fill="#1b1b1b" stroke="#1b1b1b" stroke-width="0.4" textLength="82.3" lengthAdjust="spacingAndGlyphs">ISO/caff</text>
<text x="555.8" y="835.3" font-size="22" font-weight="normal" text-anchor="start" fill="#1b1b1b" stroke="#1b1b1b" stroke-width="0.4" textLength="124.3" lengthAdjust="spacingAndGlyphs">Atrial pacing</text>
<text x="575.4" y="862.8" font-size="22" font-weight="normal" text-anchor="start" fill="#1b1b1b" stroke="#1b1b1b" stroke-width="0.4" textLength="83.4" lengthAdjust="spacingAndGlyphs">ISO/caff</text>
<text x="715.6" y="546.6" font-size="24" font-weight="bold" text-anchor="start" fill="#1b1b1b" stroke="#1b1b1b" stroke-width="0.4">D</text>
<line x1="793.7" y1="576.4" x2="793.7" y2="806.2" stroke="#111" stroke-width="2.2"/>
<line x1="792.6" y1="805.2" x2="1046.0" y2="805.2" stroke="#111" stroke-width="2.6"/>
<line x1="787.8" y1="772.1" x2="793.7" y2="772.1" stroke="#111" stroke-width="2.2"/>
<text x="785.6" y="781.0" font-size="22" font-weight="normal" text-anchor="end" fill="#1b1b1b" stroke="#1b1b1b" stroke-width="0.4" textLength="37.0" lengthAdjust="spacingAndGlyphs">100</text>
<line x1="787.8" y1="723.5" x2="793.7" y2="723.5" stroke="#111" stroke-width="2.2"/>
<text x="785.6" y="732.4" font-size="22" font-weight="normal" text-anchor="end" fill="#1b1b1b" stroke="#1b1b1b" stroke-width="0.4" textLength="37.0" lengthAdjust="spacingAndGlyphs">250</text>
<line x1="787.8" y1="674.8" x2="793.7" y2="674.8" stroke="#111" stroke-width="2.2"/>
<text x="785.6" y="683.7" font-size="22" font-weight="normal" text-anchor="end" fill="#1b1b1b" stroke="#1b1b1b" stroke-width="0.4" textLength="37.0" lengthAdjust="spacingAndGlyphs">400</text>
<line x1="787.8" y1="626.1" x2="793.7" y2="626.1" stroke="#111" stroke-width="2.2"/>
<text x="785.6" y="635.0" font-size="22" font-weight="normal" text-anchor="end" fill="#1b1b1b" stroke="#1b1b1b" stroke-width="0.4" textLength="37.0" lengthAdjust="spacingAndGlyphs">550</text>
<line x1="787.8" y1="577.5" x2="793.7" y2="577.5" stroke="#111" stroke-width="2.2"/>
<text x="785.6" y="586.4" font-size="22" font-weight="normal" text-anchor="end" fill="#1b1b1b" stroke="#1b1b1b" stroke-width="0.4" textLength="37.0" lengthAdjust="spacingAndGlyphs">700</text>
<text x="778.8" y="813.2" font-size="22" font-weight="normal" text-anchor="middle" fill="#1b1b1b" stroke="#1b1b1b" stroke-width="0.4">0</text>
<text x="728.4" y="735.8" font-size="22" font-weight="normal" text-anchor="start" fill="#1b1b1b" stroke="#1b1b1b" stroke-width="0.4" textLength="121.5" lengthAdjust="spacingAndGlyphs" transform="rotate(-90 728.4 735.8)">VPB/mouse</text>
<rect x="814.40" y="668.30" width="83.20" height="136.90" fill="#a1a0a5" stroke="#000" stroke-width="2.6"/>
<rect x="813.10" y="666.80" width="85.80" height="3.0" fill="#000"/>
<line x1="856.8" y1="667.0" x2="856.8" y2="591.8" stroke="#222" stroke-width="2"/>
<line x1="835.6" y1="591.8" x2="878.0" y2="591.8" stroke="#222" stroke-width="2.2"/>
<line x1="856.5" y1="805.0" x2="856.5" y2="812.0" stroke="#111" stroke-width="2"/>
<line x1="982.0" y1="805.0" x2="982.0" y2="811.5" stroke="#111" stroke-width="2"/>
<text x="982.0" y="797.2" font-size="25" font-weight="bold" text-anchor="middle" fill="#1b1b1b" stroke="#1b1b1b" stroke-width="0.4">*</text>
<text x="818.0" y="835.5" font-size="22" font-weight="normal" text-anchor="start" fill="#1b1b1b" stroke="#1b1b1b" stroke-width="0.4" textLength="83.6" lengthAdjust="spacingAndGlyphs">ISO/caff</text>
<text x="920.4" y="834.8" font-size="22" font-weight="normal" text-anchor="start" fill="#1b1b1b" stroke="#1b1b1b" stroke-width="0.4" textLength="123.3" lengthAdjust="spacingAndGlyphs">Atrial pacing</text>
<text x="940.2" y="863.0" font-size="22" font-weight="normal" text-anchor="start" fill="#1b1b1b" stroke="#1b1b1b" stroke-width="0.4" textLength="83.0" lengthAdjust="spacingAndGlyphs">ISO/caff</text>
</g>
</svg></body></html>
